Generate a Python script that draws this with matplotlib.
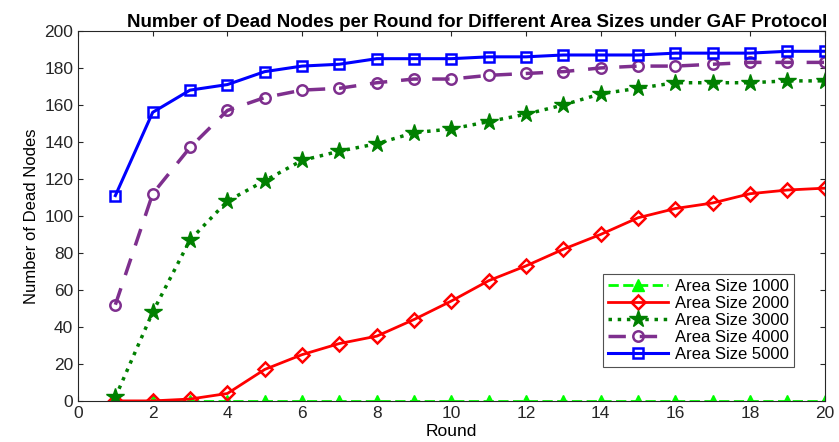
import matplotlib
matplotlib.use("Agg")
import matplotlib.pyplot as plt

plt.rcParams["font.family"] = ["Liberation Sans", "DejaVu Sans"]

rounds = list(range(1, 21))
area_1000 = [0] * 20
area_2000 = [0, 0, 1, 4, 17, 25, 31, 35, 44, 54, 65, 73, 82, 90, 99, 104, 107, 112, 114, 115]
area_3000 = [2, 48, 87, 108, 119, 130, 135, 139, 145, 147, 151, 155, 160, 166, 169, 172, 172, 172, 173, 173]
area_4000 = [52, 112, 137, 157, 164, 168, 169, 172, 174, 174, 176, 177, 178, 180, 181, 181, 182, 183, 183, 183]
area_5000 = [111, 156, 168, 171, 178, 181, 182, 185, 185, 185, 186, 186, 187, 187, 187, 188, 188, 188, 189, 189]

fig = plt.figure(figsize=(8.39, 4.42), dpi=100)
ax = fig.add_axes([0.093, 0.093, 0.890, 0.837])

ax.plot(rounds, area_1000, color="#00ff00", linestyle="--", linewidth=2,
        marker="^", markersize=8, markerfacecolor="#00ff00", label="Area Size 1000")
ax.plot(rounds, area_2000, color="red", linestyle="-", linewidth=2,
        marker="D", markersize=7, markerfacecolor="none", markeredgewidth=1.8,
        label="Area Size 2000")
ax.plot(rounds, area_3000, color="#008000", linestyle=":", linewidth=2.5,
        marker="*", markersize=13, markerfacecolor="#008000", label="Area Size 3000")
ax.plot(rounds, area_4000, color="#7E2F8E", linestyle=(0, (5, 4)), linewidth=2.5,
        marker="o", markersize=7.5, markerfacecolor="none", markeredgewidth=1.8,
        label="Area Size 4000")
ax.plot(rounds, area_5000, color="blue", linestyle="-", linewidth=2.2,
        marker="s", markersize=6.5, markerfacecolor="none", markeredgewidth=1.8,
        label="Area Size 5000")

ax.set_xlim(0, 20)
ax.set_ylim(0, 200)
ax.set_xticks(range(0, 21, 2))
ax.set_yticks(range(0, 201, 20))
ax.tick_params(direction="in", top=True, right=True, labelsize=12.5, colors="#262626")
for spine in ax.spines.values():
    spine.set_color("#262626")
    spine.set_linewidth(0.8)

ax.set_xlabel("Round", fontsize=12.5, labelpad=2)
ax.set_ylabel("Number of Dead Nodes", fontsize=12)
ax.set_title("Number of Dead Nodes per Round for Different Area Sizes under GAF Protocol",
             fontsize=13.5, fontweight="bold", pad=3, x=0.535)

leg = ax.legend(loc="lower right", bbox_to_anchor=(0.97, 0.07), fontsize=12,
                frameon=True, fancybox=False, edgecolor="#262626",
                handlelength=3.6, borderpad=0.3, labelspacing=0.12,
                handletextpad=0.4)
leg.get_frame().set_linewidth(0.8)

fig.savefig("out.png", dpi=100)
